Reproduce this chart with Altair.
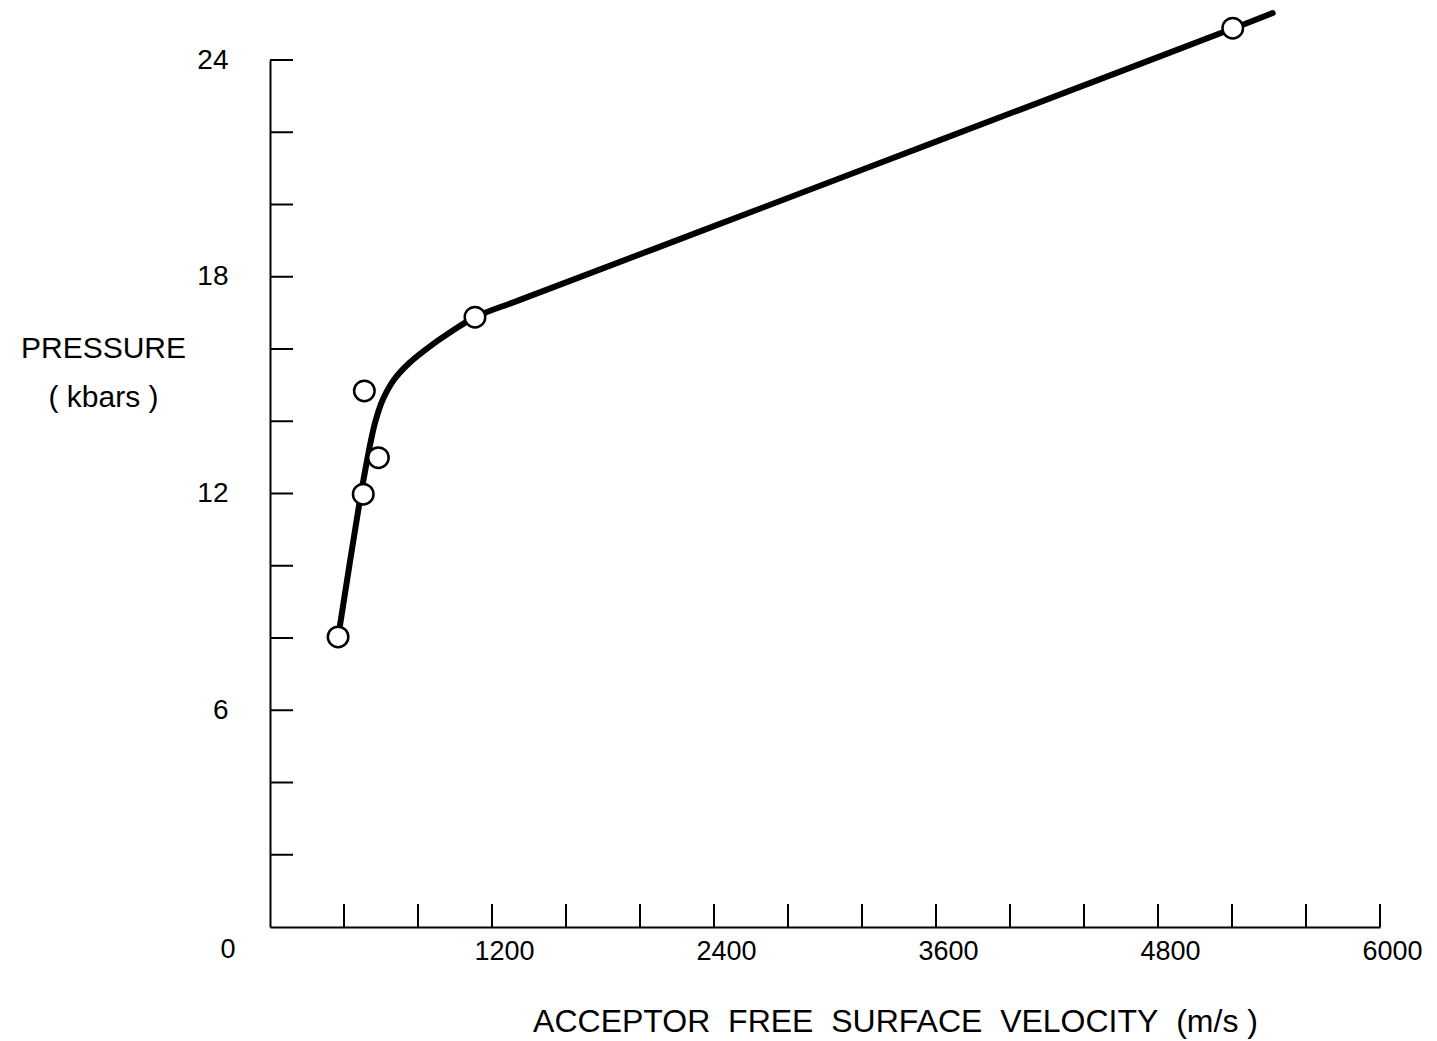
import altair as alt
import pandas as pd

# curve traced through the measurements (velocity m/s, pressure kbar)
curve_v = [369, 486, 526, 545, 570, 610, 670, 750, 850, 970, 1108, 1351, 2400, 3600, 4800, 5204, 5420]
curve_p = [8.04, 11.82, 12.95, 13.45, 14.0, 14.6, 15.15, 15.6, 16.02, 16.45, 16.88, 17.36, 19.4, 21.74, 24.08, 24.87, 25.3]

# measured points
pts_v = [368, 504, 510, 586, 1108, 5204]
pts_p = [8.03, 11.98, 14.84, 12.99, 16.88, 24.88]

# axis ticks / labels
x_ticks = [400, 800, 1200, 1600, 2000, 2400, 2800, 3200, 3600, 4000, 4400, 4800, 5200, 5600, 6000]
x_labels = [1200, 2400, 3600, 4800, 6000]
y_ticks = [2, 4, 6, 8, 10, 12, 14, 16, 18, 20, 22, 24]
y_labels = [6, 12, 18, 24]

FONT = "Liberation Sans"
W, H = 1110, 867
GAP = "\u00a0 "

curve_df = pd.DataFrame({"v": curve_v, "p": curve_p})
pts_df = pd.DataFrame({"v": pts_v, "p": pts_p})
xt_df = pd.DataFrame({"v": x_ticks})
yt_df = pd.DataFrame({"p": y_ticks})

xscale = alt.Scale(domain=[0, 6000], nice=False, zero=True)
yscale = alt.Scale(domain=[0, 24], nice=False, zero=True)

xaxis = alt.Axis(
    values=x_labels, format="d", ticks=False, tickSize=0, grid=False,
    domainColor="black", domainWidth=2,
    labelFont=FONT, labelFontSize=27, labelColor="black",
    labelPadding=11, labelOffset=12, labelFlush=False,
    title=GAP.join(["ACCEPTOR", "FREE", "SURFACE", "VELOCITY", "(m/s )"]),
    titleFont=FONT, titleFontSize=32, titleFontWeight="normal", titleColor="black",
    titleX=625, titleY=79, titleAlign="center", titleBaseline="top",
)
yaxis = alt.Axis(
    values=y_labels, format="d", ticks=False, tickSize=0, grid=False,
    domainColor="black", domainWidth=2,
    labelFont=FONT, labelFontSize=28, labelColor="black",
    labelPadding=42, labelBaseline="middle", labelFlush=False,
    title=["PRESSURE", "( kbars )"],
    titleFont=FONT, titleFontSize=30, titleFontWeight="normal", titleColor="black",
    titleAngle=0, titleAlign="center", titleBaseline="top",
    titleX=-167, titleY=273, titleLineHeight=49,
)

base_x = alt.X("v:Q", scale=xscale, axis=xaxis)
base_y = alt.Y("p:Q", scale=yscale, axis=yaxis)

line = alt.Chart(curve_df).mark_line(
    color="black", strokeWidth=6, interpolate="catmull-rom", strokeCap="round"
).encode(x=base_x, y=base_y)

points = alt.Chart(pts_df).mark_point(
    shape="circle", filled=True, fill="white", stroke="black", strokeWidth=2.5,
    size=420, opacity=1
).encode(x=alt.X("v:Q", scale=xscale), y=alt.Y("p:Q", scale=yscale))

xticks = alt.Chart(xt_df).mark_rule(color="black", strokeWidth=2).encode(
    x=alt.X("v:Q", scale=xscale), y=alt.value(H), y2=alt.value(H - 23)
)
yticks = alt.Chart(yt_df).mark_rule(color="black", strokeWidth=2).encode(
    y=alt.Y("p:Q", scale=yscale), x=alt.value(0), x2=alt.value(23)
)

zero_label = alt.Chart(pd.DataFrame({"t": ["0"]})).mark_text(
    font=FONT, fontSize=27, color="black", align="center", baseline="middle"
).encode(x=alt.value(-42), y=alt.value(H + 23), text="t:N")

chart = alt.layer(xticks, yticks, line, points, zero_label).properties(
    width=W, height=H,
    autosize=alt.AutoSizeParams(type="none"),
    padding={"left": 270, "top": 60, "right": 57, "bottom": 114},
    background="white",
).configure_view(stroke=None)

chart.save("out.html", embed_options={"renderer": "svg", "actions": False})
